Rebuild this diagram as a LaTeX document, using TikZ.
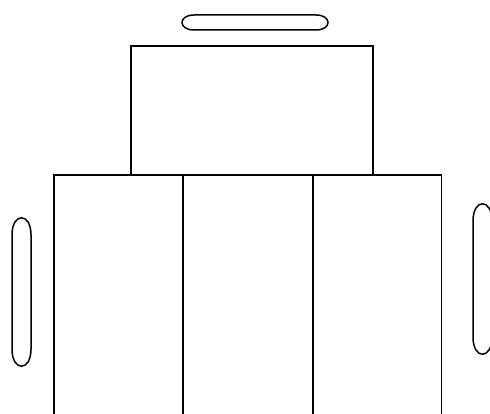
\documentclass[tikz,border=0pt]{standalone}
\begin{document}
\begin{tikzpicture}[x=1pt,y=-1pt,
  part/.style={draw=black,line width=1.5pt},
  pill/.style={draw=black,line width=1.5pt}]
\useasboundingbox (0,0) rectangle (490,414);
\clip (0,0) rectangle (490,414);
\fill[white] (0,0) rectangle (490,414);
% top pill
\draw[pill] (194,15) -- (316,15) .. controls (332,15) and (332,30) .. (316,30)
  -- (194,30) .. controls (178,30) and (178,15) .. (194,15) -- cycle;
% top box
\draw[part] (131,46) rectangle (373,175);
% lower three boxes
\draw[part] (54,175) rectangle (183,420);
\draw[part] (183,175) rectangle (313,420);
\draw[part] (313,175) rectangle (441.5,420);
% side pills
\draw[pill] (12,235) .. controls (12,212) and (31,212) .. (31,235) -- (31,349)
  .. controls (31,372) and (12,372) .. (12,349) -- cycle;
\draw[pill] (473,221) .. controls (473,198) and (492,198) .. (492,221) -- (492,337)
  .. controls (492,360) and (473,360) .. (473,337) -- cycle;
\end{tikzpicture}
\end{document}
